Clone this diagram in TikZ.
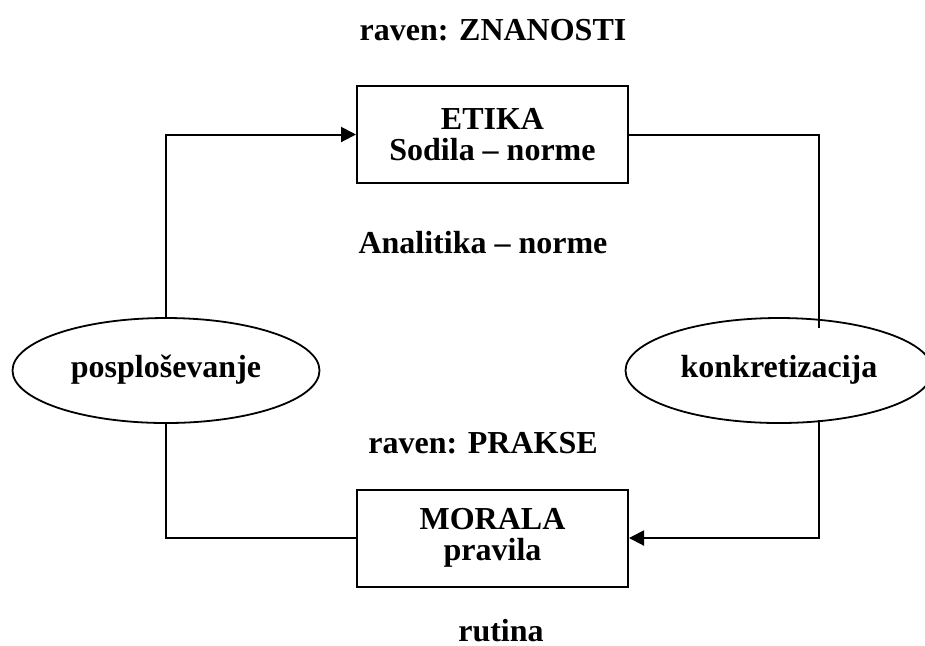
\documentclass[tikz,border=0pt]{standalone}
\usepackage{fontspec}
\setmainfont{Liberation Serif}
\usetikzlibrary{shapes.geometric,arrows.meta}

\begin{document}
\begin{tikzpicture}[x=0.5pt,y=-0.5pt,
    every node/.style={font=\fontsize{16}{15.5}\selectfont\bfseries},
    box/.style={rectangle,draw,line width=1pt,minimum width=135.5pt,minimum height=48.5pt,align=center,inner sep=0pt},
    oval/.style={ellipse,draw,line width=0.9pt,minimum width=153.5pt,minimum height=52.5pt,inner sep=0pt},
    lbl/.style={anchor=base},
    link/.style={line width=1pt},
    arr/.style={link,-{Triangle[length=7.5pt,width=7.5pt]}}]
        \useasboundingbox (0,0) rectangle (925,645);
        % upper level
        \node[lbl] at (493,40) (lvlznan) {raven: ZNANOSTI};
        \node at (492.5,134.5) [box] (etika) {ETIKA\\Sodila -- norme};
        \node[lbl] at (483,253) (analit) {Analitika -- norme};

        % the two ovals
        \node at (166,370.5) [oval] (posp) {\raisebox{4pt}{posploševanje}};
        \node at (779,370.5) [oval] (konk) {\raisebox{4pt}{konkretizacija}};
        \coordinate (kin) at (819,328);
        \coordinate (kout) at (819,420);

        % lower level
        \node[lbl] at (483,453) (lvlprak) {raven: PRAKSE};
        \node at (492.5,538) [box] (morala) {MORALA\\pravila};
        \node[lbl] at (501,641) (rutina) {rutina};

        % connectors
        \draw[arr] (posp.north) |- (etika.west);
        \draw[link] (etika.east) -| (kin);
        \draw[arr] (kout) |- (morala.east);
        \draw[link] (posp.south) |- (morala.west);
\end{tikzpicture}
\end{document}
